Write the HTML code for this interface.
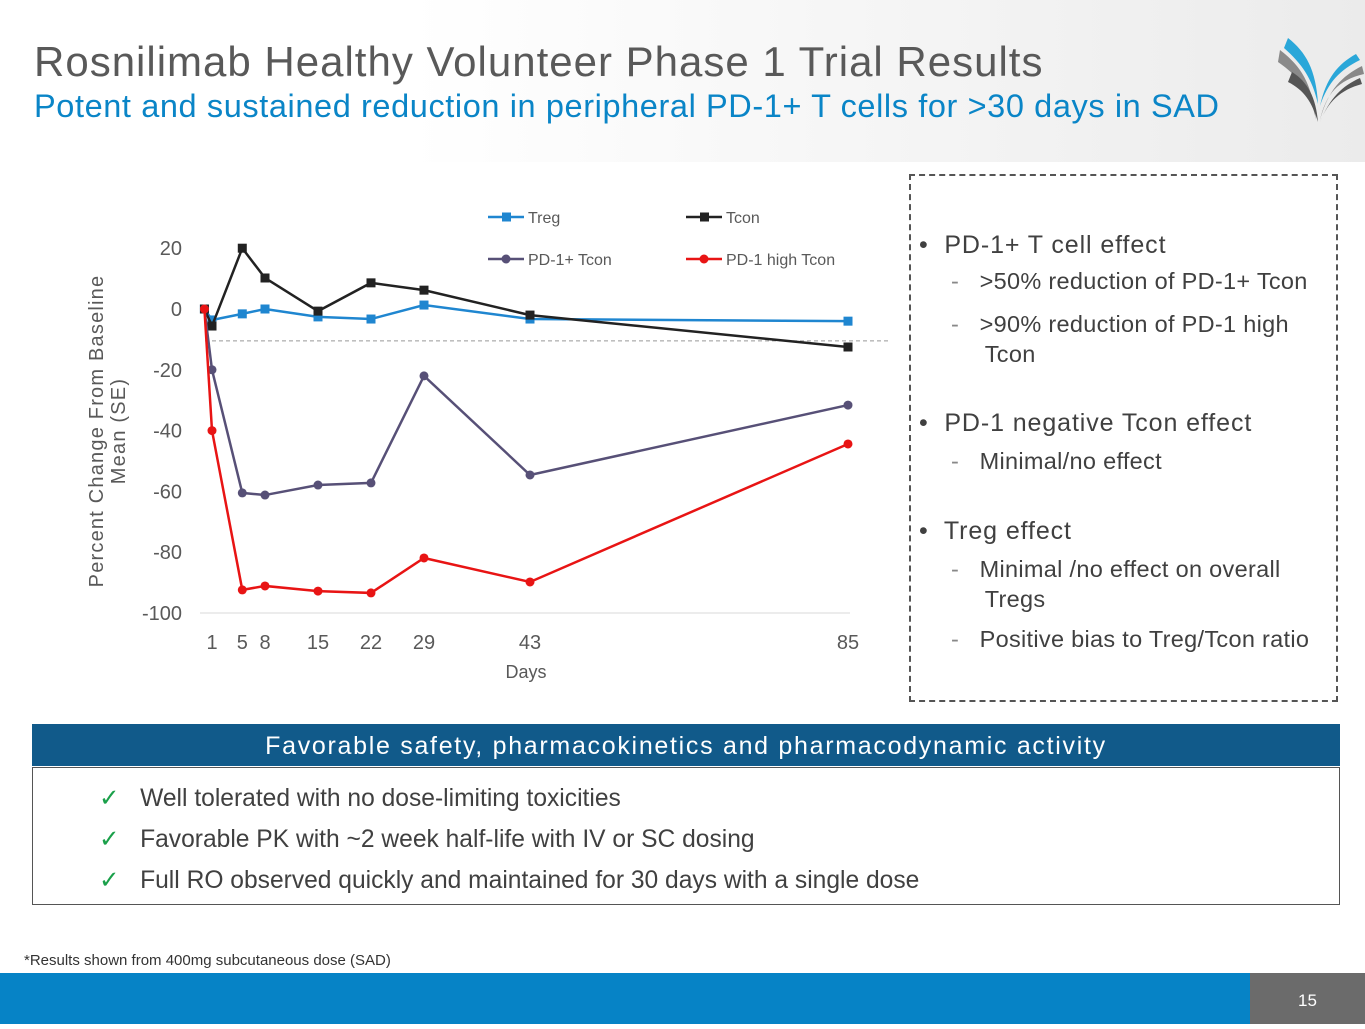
<!DOCTYPE html>
<html><head><meta charset="utf-8"><style>
body{margin:0;width:1365px;height:1024px;position:relative;overflow:hidden;background:#fff;font-family:"Liberation Sans",sans-serif;}
.abs{position:absolute;white-space:nowrap;}
</style></head><body>
<div class="abs" style="left:0;top:0;width:1365px;height:162px;background:linear-gradient(90deg,#fff 0%,#fff 30%,#ebebeb 100%);"></div>
<div class="abs" style="left:34px;top:38px;font-size:42px;color:#595959;letter-spacing:1px;">Rosnilimab Healthy Volunteer Phase 1 Trial Results</div>
<div class="abs" style="left:34px;top:88px;font-size:32.5px;color:#0a85c7;letter-spacing:0.6px;">Potent and sustained reduction in peripheral PD-1+ T cells for &gt;30 days in SAD</div>
<svg class="abs" style="left:1276px;top:32px" width="90" height="92" viewBox="0 0 90 92">
<path d="M4 18 C22 32 36 48 40 88 C34 58 22 44 2 30Z" fill="#8a8a8a"/>
<path d="M12 6 C30 20 40 38 42 72 C36 46 26 32 8 16Z" fill="#2aa7d9"/>
<path d="M16 40 C32 50 40 66 42 90 C36 70 28 58 12 50Z" fill="#555"/>
<path d="M86 34 C66 44 52 58 44 88 C50 62 62 48 88 42Z" fill="#888"/>
<path d="M80 22 C62 32 50 46 44 74 C52 50 64 38 84 28Z" fill="#2aa7d9"/>
<path d="M84 46 C66 54 54 66 44 90 C52 70 64 58 86 52Z" fill="#555"/>
</svg>

<svg class="abs" id="chart" style="left:0;top:160px" width="900" height="540"></svg>

<div class="abs" style="left:909px;top:174px;width:429px;height:528px;border:2px dashed #555;box-sizing:border-box;color:#404040;">
<div class="abs" style="left:8px;top:55px;font-size:25px;letter-spacing:0.9px;">•&nbsp; PD-1+ T cell effect</div>
<div class="abs" style="left:40px;top:92px;font-size:23.5px;letter-spacing:0.3px;"><span style="color:#888">-</span>&nbsp;&nbsp; &gt;50% reduction of PD-1+ Tcon</div>
<div class="abs" style="left:40px;top:133px;font-size:23.5px;line-height:30px;letter-spacing:0.3px;"><span style="color:#888">-</span>&nbsp;&nbsp; &gt;90% reduction of PD-1 high<br>&nbsp;&nbsp;&nbsp;&nbsp; Tcon</div>
<div class="abs" style="left:8px;top:233px;font-size:25px;letter-spacing:0.9px;">•&nbsp; PD-1 negative Tcon effect</div>
<div class="abs" style="left:40px;top:272px;font-size:23.5px;letter-spacing:0.3px;"><span style="color:#888">-</span>&nbsp;&nbsp; Minimal/no effect</div>
<div class="abs" style="left:8px;top:341px;font-size:25px;letter-spacing:0.9px;">•&nbsp; Treg effect</div>
<div class="abs" style="left:40px;top:378px;font-size:23.5px;line-height:30px;letter-spacing:0.3px;"><span style="color:#888">-</span>&nbsp;&nbsp; Minimal /no effect on overall<br>&nbsp;&nbsp;&nbsp;&nbsp; Tregs</div>
<div class="abs" style="left:40px;top:450px;font-size:23.5px;letter-spacing:0.3px;"><span style="color:#888">-</span>&nbsp;&nbsp; Positive bias to Treg/Tcon ratio</div>
</div>

<div class="abs" style="left:32px;top:724px;width:1308px;height:42px;background:#115a8a;color:#fff;font-size:25px;text-align:center;line-height:44px;letter-spacing:1.7px;">Favorable safety, pharmacokinetics and pharmacodynamic activity</div>
<div class="abs" style="left:32px;top:767px;width:1308px;height:138px;border:1px solid #555;box-sizing:border-box;color:#404040;font-size:24.6px;">
<div class="abs" style="left:66px;top:15px;"><span style="color:#1aa04a">✓</span>&nbsp;&nbsp; Well tolerated with no dose-limiting toxicities</div>
<div class="abs" style="left:66px;top:56px;"><span style="color:#1aa04a">✓</span>&nbsp;&nbsp; Favorable PK with ~2 week half-life with IV or SC dosing</div>
<div class="abs" style="left:66px;top:97px;"><span style="color:#1aa04a">✓</span>&nbsp;&nbsp; Full RO observed quickly and maintained for 30 days with a single dose</div>
</div>
<div class="abs" style="left:24px;top:952px;font-size:15px;color:#333;">*Results shown from 400mg subcutaneous dose (SAD)</div>
<div class="abs" style="left:0;top:973px;width:1250px;height:51px;background:#0683c6;"></div>
<div class="abs" style="left:1250px;top:973px;width:115px;height:51px;background:#6b6b6b;color:#fff;font-size:17px;line-height:56px;text-align:center;">15</div>

<script>
const days=[0,1,5,8,15,22,29,43,85];
const tickDays=[1,5,8,15,22,29,43,85];
const yTicks=[20,0,-20,-40,-60,-80,-100];
const treg=[0,-3.6,-1.6,0,-2.6,-3.3,1.3,-3.3,-4];
const tcon=[0,-5.6,20,10.2,-0.7,8.6,6.2,-2,-12.5];
const pd1Tcon=[0,-20,-60.5,-61.2,-57.9,-57.2,-22,-54.6,-31.6];
const pd1High=[0,-40,-92.4,-91.1,-92.8,-93.4,-81.9,-89.8,-44.4];
const refLine=-10.5;
const svg=document.getElementById('chart');
const NS='http://www.w3.org/2000/svg';
const X=d=>212+(d-1)*(636/84);
const Y=v=>149-v*3.04;
function mk(tag,at,parent){const e=document.createElementNS(NS,tag);for(const k in at)e.setAttribute(k,at[k]);(parent||svg).appendChild(e);return e;}
let ax=mk('line',{x1:200,x2:850,y1:Y(-100),y2:Y(-100),stroke:'#d9d9d9'});


yTicks.forEach(t=>{const e=mk('text',{x:182,y:Y(t)+7,'text-anchor':'end','font-size':20,fill:'#595959'});e.textContent=t;

});
tickDays.forEach(t=>{const e=mk('text',{x:X(t),y:Y(-100)+36,'text-anchor':'middle','font-size':20,fill:'#595959'});e.textContent=t;

});
let xt=mk('text',{x:526,y:518,'text-anchor':'middle','font-size':18,fill:'#595959'});xt.textContent='Days';


let yt=mk('text',{transform:'translate(103,271) rotate(-90)','text-anchor':'middle','font-size':20,fill:'#595959','letter-spacing':'1.2'});


const t1=mk('tspan',{x:0,dy:0},yt);t1.textContent='Percent Change From Baseline';
const t2=mk('tspan',{x:0,dy:22},yt);t2.textContent='Mean (SE)';
let rl=mk('line',{x1:205,x2:888,y1:Y(refLine),y2:Y(refLine),stroke:'#999','stroke-dasharray':'4,3'});


const series=[['treg',treg,'#1f86d0','sq','Treg',488,57],['tcon',tcon,'#222','sq','Tcon',686,57],['pd1-tcon',pd1Tcon,'#575077','ci','PD-1+ Tcon',488,99],['pd1-high-tcon',pd1High,'#e81414','ci','PD-1 high Tcon',686,99]];
series.forEach(([n,vals,c,m,lab,lx,ly])=>{
const g=mk('g',{});


mk('polyline',{points:vals.map((v,i)=>X(days[i])+','+Y(v)).join(' '),fill:'none',stroke:c,'stroke-width':2.5},g);
vals.forEach((v,i)=>{const p=m==='sq'?mk('rect',{x:X(days[i])-4.5,y:Y(v)-4.5,width:9,height:9,fill:c},g):mk('circle',{cx:X(days[i]),cy:Y(v),r:4.5,fill:c},g);

});
const lg=mk('g',{});


mk('line',{x1:lx,x2:lx+36,y1:ly,y2:ly,stroke:c,'stroke-width':2.5},lg);
if(m==='sq')mk('rect',{x:lx+14,y:ly-4.5,width:9,height:9,fill:c},lg);else mk('circle',{cx:lx+18,cy:ly,r:4.5,fill:c},lg);
const tx=mk('text',{x:lx+40,y:ly+6,'font-size':16,fill:'#595959'},lg);tx.textContent=lab;
});
</script>
</body></html>
